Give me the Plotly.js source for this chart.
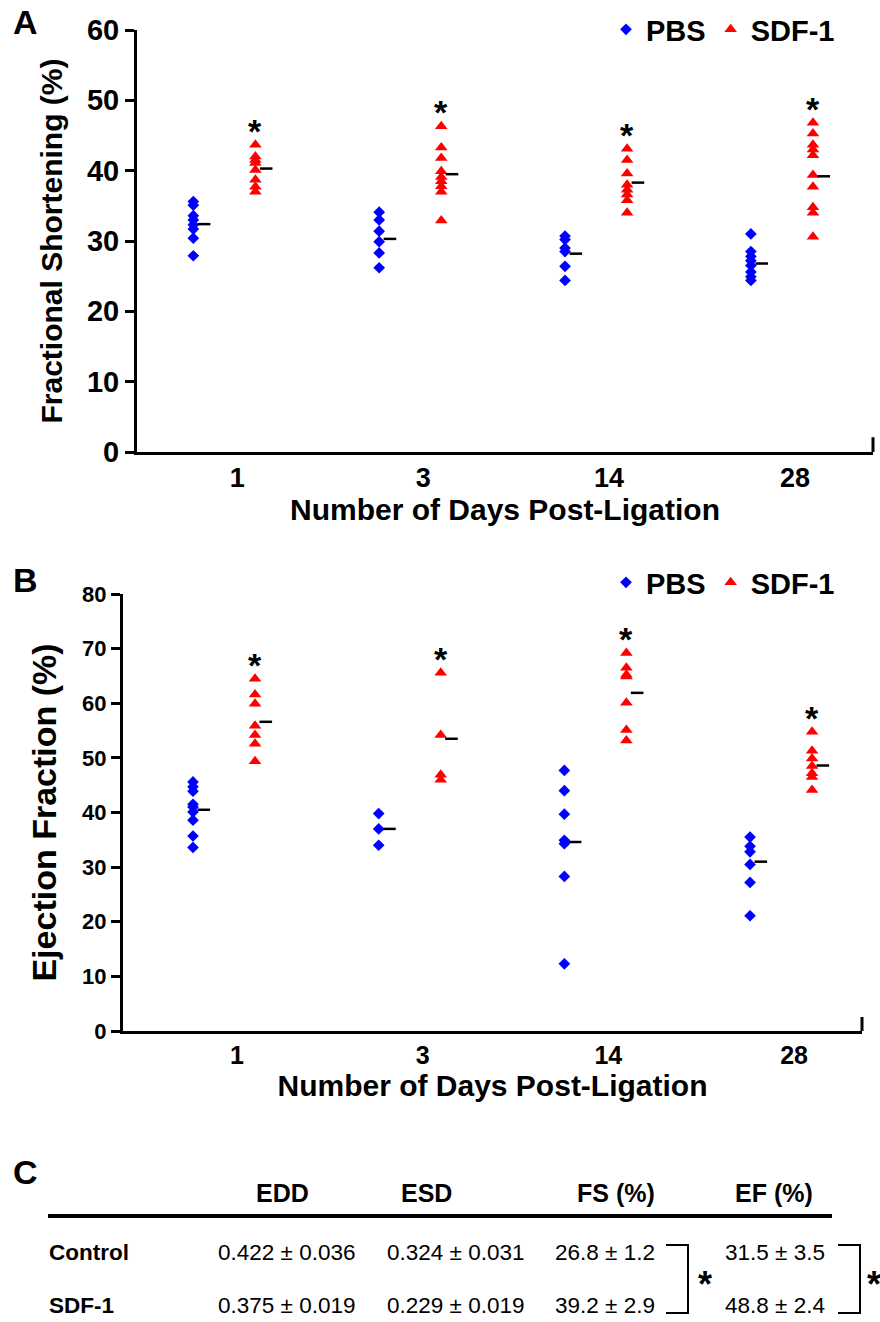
<!DOCTYPE html>
<html>
<head>
<meta charset="utf-8">
<script src="https://cdn.plot.ly/plotly-3.0.1.min.js"></script>
<style>html,body{margin:0;padding:0;background:#fff}#chart{width:880px;height:1322px}</style>
</head>
<body>
<div id="chart"></div>
<script>
// ---------------- DATA ----------------
const days = ["1", "3", "14", "28"];

// Panel A: Fractional Shortening (%)
const fsPBS = [
  [35.6, 35.1, 33.6, 33.0, 32.3, 31.7, 30.4, 27.9],
  [34.1, 33.0, 31.4, 29.9, 28.3, 26.2],
  [30.7, 30.2, 29.0, 28.5, 26.4, 24.4],
  [31.0, 28.5, 27.8, 27.2, 26.5, 25.6, 24.9, 24.4]
];
const fsSDF = [
  [43.7, 42.0, 41.5, 41.1, 40.1, 38.7, 37.7, 37.0],
  [46.3, 43.3, 41.8, 39.9, 39.1, 38.5, 37.8, 37.0, 32.9],
  [43.1, 41.5, 39.6, 38.0, 37.3, 36.6, 35.8, 34.0],
  [46.8, 45.3, 43.7, 43.0, 42.2, 39.4, 37.7, 34.8, 34.0, 30.6]
];
const fsPBSMean = [32.4, 30.3, 28.2, 26.8];
const fsSDFMean = [40.3, 39.5, 38.3, 39.2];
const fsSig = [true, true, true, true];

// Panel B: Ejection Fraction (%)
const efPBS = [
  [45.6, 44.7, 43.9, 41.5, 41.0, 40.1, 38.6, 35.7, 33.6],
  [39.8, 37.0, 34.0],
  [47.7, 44.0, 39.7, 34.9, 34.3, 28.3, 12.3],
  [35.5, 33.8, 32.8, 30.5, 27.2, 21.1]
];
const efSDF = [
  [64.5, 61.6, 59.9, 55.9, 54.2, 52.6, 49.4],
  [65.6, 54.2, 46.9, 46.0],
  [69.2, 66.5, 65.2, 64.9, 60.1, 55.1, 53.2],
  [54.8, 51.3, 49.9, 48.5, 47.2, 46.5, 44.1]
];
const efPBSMean = [40.5, 37.0, 34.6, 31.0];
const efSDFMean = [56.6, 53.5, 61.9, 48.6];
const efSig = [true, true, true, true];

// Panel C: table
const tableCols = ["EDD", "ESD", "FS (%)", "EF (%)"];
const tableRows = ["Control", "SDF-1"];
const eddMean = [0.422, 0.375], eddSD = [0.036, 0.019];
const esdMean = [0.324, 0.229], esdSD = [0.031, 0.019];
const fsMean  = [26.8, 39.2],   fsSD  = [1.2, 2.9];
const efMean  = [31.5, 48.8],   efSD  = [3.5, 2.4];

// ---------------- STYLE / LAYOUT HELPERS ----------------
const F = "Liberation Sans, Arial, Helvetica, sans-serif";
const W = 880, H = 1322;
const px = x => x / W;
const py = y => 1 - y / H;
const BLUE = "#0000ff", RED = "#ff0000";
const offPBS = -0.237, offSDF = 0.097, dashShift = 0.058;
const bold = (size) => ({ family: F, size: size, weight: "bold", color: "#000" });

const annotations = [];
const shapes = [];

function flat(groups, off) {
  const xs = [], ys = [];
  groups.forEach((g, i) => g.forEach(v => { xs.push(i + off); ys.push(v); }));
  return { xs, ys };
}

function panelTraces(pbs, sdf, pbsMean, sdfMean, sig, xa, ya, leg) {
  const a = flat(pbs, offPBS), b = flat(sdf, offSDF);
  const idx = days.map((d, i) => i);
  idx.filter(i => sig[i]).forEach(i => {
    annotations.push({ text: "*", xref: xa, yref: ya, x: i + offSDF, y: Math.max(...sdf[i]),
      showarrow: false, xanchor: "center", yanchor: "middle", yshift: 14, font: bold(34) });
  });
  return [
    { type: "scatter", mode: "markers", name: "PBS", x: a.xs, y: a.ys, xaxis: xa, yaxis: ya, legend: leg,
      marker: { symbol: "diamond", size: 9, color: BLUE }, cliponaxis: false },
    { type: "scatter", mode: "markers", name: "SDF-1", x: b.xs, y: b.ys, xaxis: xa, yaxis: ya, legend: leg,
      marker: { symbol: "triangle-up", size: 11, color: RED }, cliponaxis: false },
    { type: "scatter", mode: "markers", showlegend: false, hoverinfo: "skip",
      x: idx.map(i => i + offPBS + dashShift).concat(idx.map(i => i + offSDF + dashShift)),
      y: pbsMean.concat(sdfMean), xaxis: xa, yaxis: ya,
      marker: { symbol: "line-ew", size: 9, color: "#000", line: { width: 2.5, color: "#000" } } }
  ];
}

const data = [].concat(
  panelTraces(fsPBS, fsSDF, fsPBSMean, fsSDFMean, fsSig, "x", "y", "legend"),
  panelTraces(efPBS, efSDF, efPBSMean, efSDFMean, efSig, "x2", "y2", "legend2")
);

function xAxis(domain, range, anchor, tfs) {
  return {
    domain: domain, range: range, anchor: anchor,
    tickvals: days.map((d, i) => i), ticktext: days,
    showline: true, linewidth: 3, linecolor: "#000", ticks: "", showgrid: false, zeroline: false,
    tickfont: bold(tfs),
    title: { text: "Number of Days Post-Ligation", font: bold(30), standoff: 4 }
  };
}
function yAxis(domain, range, anchor, title, fs, titleSize) {
  return {
    domain: domain, range: range, anchor: anchor, dtick: 10, tick0: 0,
    showline: true, linewidth: 3, linecolor: "#000", ticks: "outside", ticklen: 9, tickwidth: 3, tickcolor: "#000",
    showgrid: false, zeroline: false,
    tickfont: bold(fs),
    title: { text: title, font: bold(titleSize), standoff: 16 }
  };
}

function ann(text, x, y, opts) {
  annotations.push(Object.assign({
    text: text, x: px(x), y: py(y), xref: "paper", yref: "paper", showarrow: false,
    xanchor: "center", yanchor: "middle",
    font: { family: F, size: 23, color: "#000" }
  }, opts || {}));
}
// panel letters
ann("A", 25, 22, { font: bold(34) });
ann("B", 25, 580, { font: bold(34) });
ann("C", 25, 1172, { font: bold(34) });

// right-end closing ticks of x axes
shapes.push({ type: "line", xref: "x domain", yref: "y domain", x0: 1, x1: 1, y0: 0, y1: 0.035, line: { width: 3, color: "#000" } });
shapes.push({ type: "line", xref: "x2 domain", yref: "y2 domain", x0: 1, x1: 1, y0: 0, y1: 0.032, line: { width: 3, color: "#000" } });

// ---- Table C ----
const headerX = [282, 426, 616, 774];
const valueX = [286, 455, 605, 775];
const rowY = [1252, 1305];
tableCols.forEach((c, j) => ann(c, headerX[j], 1193, { font: bold(25) }));
shapes.push({ type: "line", xref: "paper", yref: "paper", x0: px(48), x1: px(832), y0: py(1216), y1: py(1216), line: { width: 4, color: "#000" } });
const fmt = (m, s, d) => m.toFixed(d) + " ± " + s.toFixed(d);
tableRows.forEach((r, i) => {
  ann(r, 47, rowY[i], { xanchor: "left", font: bold(22.5) });
  const vals = [fmt(eddMean[i], eddSD[i], 3), fmt(esdMean[i], esdSD[i], 3), fmt(fsMean[i], fsSD[i], 1), fmt(efMean[i], efSD[i], 1)];
  vals.forEach((v, j) => ann(v, valueX[j], rowY[i], { font: { family: F, size: 22.5, color: "#000" } }));
});
// significance brackets
[[666, 688, 705], [838, 860, 874]].forEach(b => {
  shapes.push({ type: "path", xref: "paper", yref: "paper",
    path: `M ${px(b[0])} ${py(1245)} L ${px(b[1])} ${py(1245)} L ${px(b[1])} ${py(1313)} L ${px(b[0])} ${py(1313)}`,
    line: { width: 2, color: "#000" } });
  ann("*", b[2], 1284, { font: bold(36) });
});

const legendCommon = {
  orientation: "h", xanchor: "left", yanchor: "top", bgcolor: "rgba(0,0,0,0)",
  font: bold(29), itemwidth: 30, tracegroupgap: 0
};

const layout = {
  width: W, height: H, margin: { l: 0, r: 0, t: 0, b: 0 },
  paper_bgcolor: "#fff", plot_bgcolor: "#fff", showlegend: true,
  xaxis: xAxis([px(137), px(873)], [-0.54, 3.42], "y", 27),
  yaxis: yAxis([py(452), py(30)], [0, 60], "x", "Fractional Shortening (%)", 29, 30),
  xaxis2: xAxis([px(123), px(862)], [-0.614, 3.366], "y2", 25),
  yaxis2: yAxis([py(1031), py(594)], [0, 80], "x2", "Ejection Fraction (%)", 22, 34),
  legend: Object.assign({ x: px(606), y: py(4) }, legendCommon),
  legend2: Object.assign({ x: px(606), y: py(557) }, legendCommon),
  annotations: annotations, shapes: shapes
};

Plotly.newPlot("chart", data, layout, { staticPlot: true });
</script>
</body>
</html>
